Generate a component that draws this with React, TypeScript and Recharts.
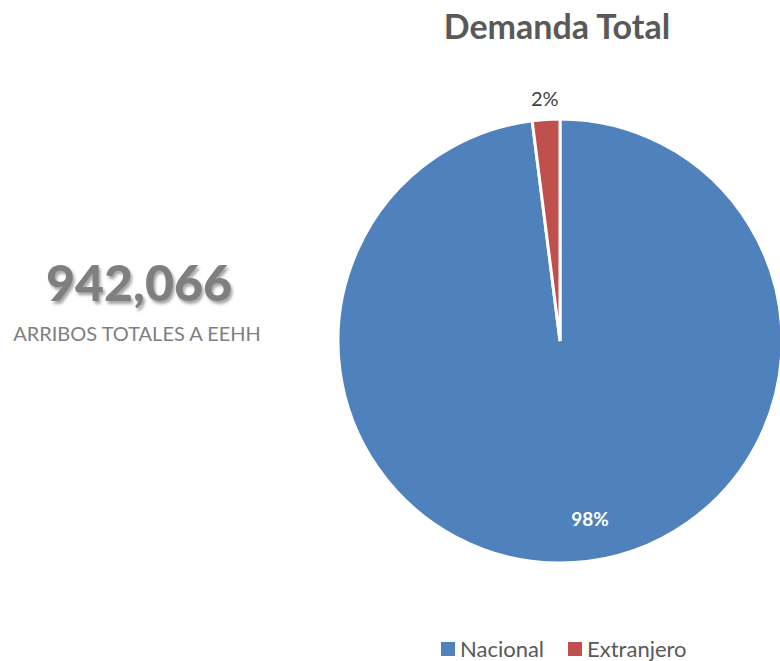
import { PieChart, Pie, Cell, Legend } from "recharts";

const categories = ["Nacional", "Extranjero"];
const shares = [98, 2];
const colors = ["#4F81BD", "#C0504D"];
const totalArrivals = "942,066";

const data = categories.map((name, i) => ({ name, value: shares[i] }));

const RAD = Math.PI / 180;

// Excel-style labels: big slice inside (white, bold), small slice outside
const renderLabel = (props: any) => {
  const { cx, cy, midAngle, outerRadius, index, value } = props;
  if (index === 0) {
    const r = outerRadius * 0.81;
    const a = (midAngle + 6) * RAD;
    return (
      <text x={cx + r * Math.cos(-a)} y={cy + r * Math.sin(-a)} fill="#fff" fontSize={19} fontWeight={700}
        fontFamily="Lato, 'Noto Sans', sans-serif" textAnchor="middle" dominantBaseline="central">
        {value}%
      </text>
    );
  }
  const r = outerRadius + 21;
  const a = midAngle * RAD;
  return (
    <text x={cx + r * Math.cos(-a)} y={cy + r * Math.sin(-a)} fill="#404040" fontSize={20}
      fontFamily="Lato, 'Noto Sans', sans-serif" textAnchor="middle" dominantBaseline="central">
      {value}%
    </text>
  );
};

const LegendContent = () => (
  <div style={{ display: "flex", alignItems: "center", fontFamily: "Lato, 'Noto Sans', sans-serif", fontSize: 22, color: "#595959" }}>
    {categories.map((c, i) => (
      <div key={c} style={{ display: "flex", alignItems: "center", marginRight: 24 }}>
        <span style={{ width: 14, height: 14, background: colors[i], display: "inline-block", marginRight: 5 }} />
        <span>{c}</span>
      </div>
    ))}
  </div>
);

const App = () => (
  <div style={{ position: "absolute", left: 0, top: 0, width: 780, height: 661, background: "#fff", overflow: "hidden" }}>
    <div style={{ position: "absolute", left: 400, width: 314, top: 5, textAlign: "center", fontFamily: "Lato, 'Noto Sans', sans-serif", fontWeight: 700, fontSize: 34, color: "#595959" }}>
      Demanda Total
    </div>
    <div style={{ position: "absolute", left: 0, width: 278, top: 252, textAlign: "center", fontFamily: "Lato, 'Noto Sans', sans-serif", fontWeight: 900, fontSize: 50, color: "#7f7f7f", textShadow: "2px 3px 3px rgba(0,0,0,0.35)" }}>
      {totalArrivals}
    </div>
    <div style={{ position: "absolute", left: 0, width: 274, top: 321, textAlign: "center", fontFamily: "Lato, 'Noto Sans', sans-serif", fontSize: 20, color: "#7f7f7f" }}>
      ARRIBOS TOTALES A EEHH
    </div>
    <PieChart width={780} height={661} margin={{ top: 0, right: 0, bottom: 0, left: 0 }}>
      <Pie
        data={data}
        dataKey="value"
        nameKey="name"
        cx={560}
        cy={341}
        outerRadius={222}
        startAngle={90}
        endAngle={-270}
        stroke="#fff"
        strokeWidth={3}
        label={renderLabel}
        labelLine={false}
        isAnimationActive={false}
      >
        {data.map((d, i) => (
          <Cell key={d.name} fill={colors[i]} />
        ))}
      </Pie>
      <Legend content={<LegendContent />} wrapperStyle={{ position: "absolute", left: 441, top: 635, width: 330 }} />
    </PieChart>
  </div>
);

export default App;
